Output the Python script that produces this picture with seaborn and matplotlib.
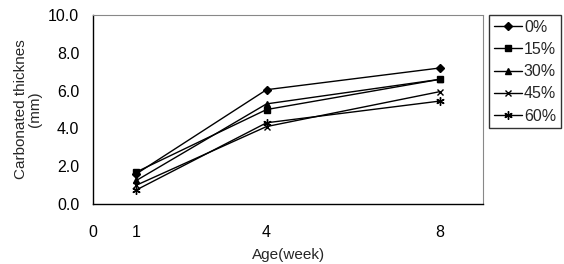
import pandas as pd
import seaborn as sns
import matplotlib.pyplot as plt

# Data
weeks = [1, 4, 8]
series = ["0%", "15%", "30%", "45%", "60%"]
thick_0 = [1.6, 6.05, 7.2]
thick_15 = [1.7, 5.0, 6.6]
thick_30 = [1.25, 5.3, 6.6]
thick_45 = [1.0, 4.1, 5.95]
thick_60 = [0.75, 4.3, 5.45]
xtick_pos = [0, 1, 2, 3, 4, 5, 6, 7, 8]
xtick_labels = ["0", "1", "", "", "4", "", "", "", "8"]
ytick_pos = [0, 2, 4, 6, 8, 10]

values = [thick_0, thick_15, thick_30, thick_45, thick_60]
df = pd.DataFrame({
    "week": weeks * len(series),
    "thick": [v for vals in values for v in vals],
    "mix": [s for s in series for _ in weeks],
})

sns.set_style("white")
plt.rcParams["font.family"] = ["Liberation Sans", "DejaVu Sans"]

fig = plt.figure(figsize=(5.64, 2.64), dpi=100)
ax = fig.add_axes([0.165, 0.227, 0.692, 0.716])

sns.lineplot(data=df, x="week", y="thick", hue="mix", style="mix",
             palette=["black"] * 5,
             markers=["D", "s", "^", "X", "*"],
             dashes=False, markersize=5, linewidth=1.0, ax=ax,
             markeredgecolor="black")

ax.set_xlim(0, 9)
ax.set_ylim(0, 10)
ax.set_xticks(xtick_pos)
ax.set_xticklabels(xtick_labels)
ax.set_yticks(ytick_pos)
ax.set_yticklabels([f"{v:.1f}" for v in ytick_pos])
ax.tick_params(axis="both", direction="in", length=3, width=0.8,
               labelsize=11.5, colors="black")
ax.tick_params(axis="x", pad=15)
ax.tick_params(axis="y", pad=10)

for side in ["left", "bottom"]:
    ax.spines[side].set_color("black")
    ax.spines[side].set_linewidth(1.0)
for side in ["top", "right"]:
    ax.spines[side].set_color("#888888")
    ax.spines[side].set_linestyle((0, (2, 1)))
    ax.spines[side].set_linewidth(0.8)

ax.set_xlabel("Age(week)", fontsize=11, labelpad=6)
ax.set_ylabel("Carbonated thicknes\n(mm)", fontsize=11, labelpad=4,
              linespacing=1.0)

handles, labels = ax.get_legend_handles_labels()
leg = ax.legend(handles, labels, loc="upper left", bbox_to_anchor=(1.014, 1.0),
                frameon=True, fancybox=False, edgecolor="black",
                fontsize=11.5, handlelength=1.8, handletextpad=0.1,
                labelspacing=0.45, borderpad=0.3, borderaxespad=0)
leg.get_frame().set_linewidth(1.0)

# swap to thin x / asterisk markers like the original
for line in list(ax.lines) + list(leg.legend_handles):
    m = line.get_marker()
    line.set_markeredgewidth(1.0)
    if m == "X":
        line.set_marker("x")
    elif m == "*":
        line.set_marker((6, 2, 0))
        line.set_markersize(6)
    elif m == "D":
        line.set_markersize(4.5)

fig.savefig("out.png", dpi=100)
